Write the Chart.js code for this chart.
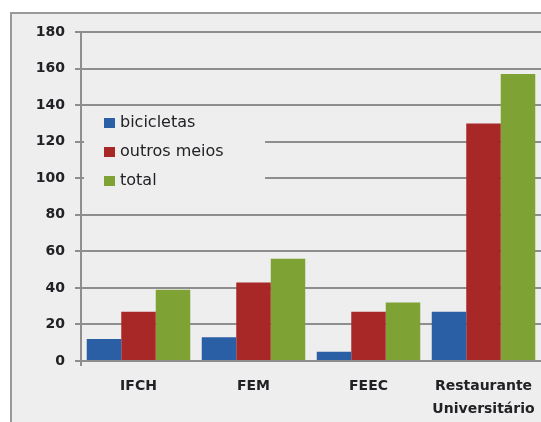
<!DOCTYPE html>
<html>
<head>
<meta charset="utf-8">
<script src="https://cdn.jsdelivr.net/npm/chart.js@4/dist/chart.umd.min.js"></script>
<style>
html, body { margin: 0; padding: 0; background: #fff; overflow: hidden; }
#chart { display: block; }
</style>
</head>
<body>
<canvas id="chart" width="560" height="422"></canvas>
<script>
// dados
const categories = ['IFCH', 'FEM', 'FEEC', ['Restaurante', 'Universitário']];
const bicicletas = [12, 13, 5, 27];
const outrosMeios = [27, 43, 27, 130];
const total = [39, 56, 32, 157];
const seriesNames = ['bicicletas', 'outros meios', 'total'];
const seriesColors = ['#2b5fa5', '#a82828', '#7fa234'];

const gridColor = '#8e8e8e';
const textColor = '#222226';
const fontFamily = '"DejaVu Sans", Verdana, sans-serif';

// fundo cinza com moldura à esquerda e em cima (o gráfico original está cortado à direita)
const frameBackground = {
    id: 'frameBackground',
    beforeDraw(chart) {
        const ctx = chart.ctx;
        ctx.save();
        ctx.fillStyle = '#ffffff';
        ctx.fillRect(0, 0, chart.width, chart.height);
        ctx.fillStyle = '#eeeeee';
        ctx.fillRect(10, 12, chart.width - 10, chart.height - 12);
        ctx.fillStyle = '#999999';
        ctx.fillRect(10, 12, chart.width - 10, 2);
        ctx.fillRect(10, 12, 2, chart.height - 12);
        ctx.restore();
    }
};

// legenda desenhada dentro da área do gráfico, como no original
const insideLegend = {
    id: 'insideLegend',
    beforeDatasetsDraw(chart) {
        const ctx = chart.ctx;
        ctx.save();
        ctx.fillStyle = '#eeeeee';
        ctx.fillRect(84, 109, 181, 88);
        ctx.font = '16px ' + fontFamily;
        ctx.textBaseline = 'middle';
        chart.data.datasets.forEach((ds, i) => {
            const y = 123 + i * 29;
            ctx.fillStyle = ds.backgroundColor;
            ctx.fillRect(104, y - 5, 11, 10);
            ctx.fillStyle = textColor;
            ctx.fillText(ds.label, 120, y);
        });
        ctx.restore();
    }
};

new Chart(document.getElementById('chart'), {
    type: 'bar',
    data: {
        labels: categories,
        datasets: [
            { label: seriesNames[0], data: bicicletas, backgroundColor: seriesColors[0] },
            { label: seriesNames[1], data: outrosMeios, backgroundColor: seriesColors[1] },
            { label: seriesNames[2], data: total, backgroundColor: seriesColors[2] }
        ]
    },
    options: {
        responsive: false,
        animation: false,
        layout: { padding: { top: 32, right: 19, bottom: 0, left: 0 } },
        datasets: {
            bar: { barPercentage: 1.0, categoryPercentage: 0.9 }
        },
        plugins: {
            legend: { display: false },
            tooltip: { enabled: false }
        },
        scales: {
            x: {
                grid: {
                    display: true,
                    drawOnChartArea: false,
                    tickLength: 5,
                    lineWidth: 2,
                    // só o primeiro traço, prolongando o eixo y abaixo do zero
                    color: (c) => c.index === 0 ? gridColor : 'rgba(0,0,0,0)'
                },
                border: { display: true, color: gridColor, width: 2 },
                ticks: {
                    color: textColor,
                    padding: 9,
                    maxRotation: 0,
                    font: { family: fontFamily, size: 14, weight: 'bold', lineHeight: 1.64 }
                },
                afterFit(scale) {
                    scale.height = 61;
                    scale.paddingLeft = 0;
                    scale.paddingRight = 0;
                }
            },
            y: {
                min: 0,
                max: 180,
                ticks: {
                    stepSize: 20,
                    color: textColor,
                    padding: 10,
                    font: { family: fontFamily, size: 14, weight: 'bold' }
                },
                grid: { color: gridColor, lineWidth: 2, tickLength: 6, drawTicks: true },
                border: { display: true, color: gridColor, width: 2 },
                afterFit(scale) { scale.width = 81; }
            }
        }
    },
    plugins: [frameBackground, insideLegend]
});
</script>
</body>
</html>
